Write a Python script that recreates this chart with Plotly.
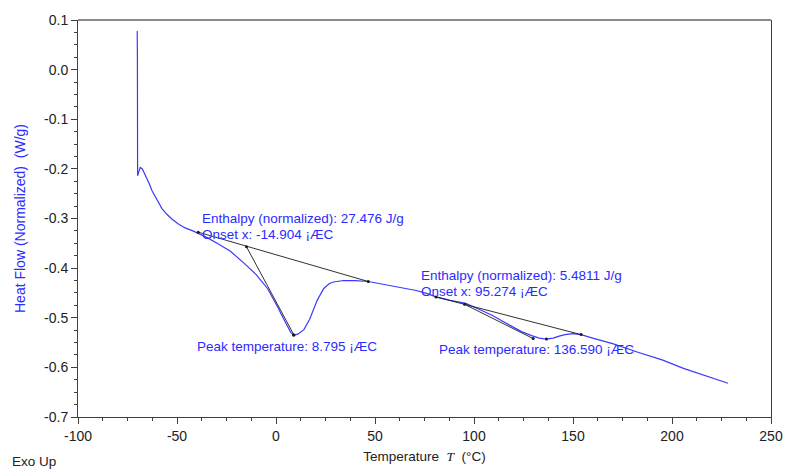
import plotly.graph_objects as go

# DSC heating scan: temperature (°C) and normalized heat flow (W/g)
temperature = [
    -70.1, -70.0, -69.9, -69.3, -68.6, -67.5, -66.0, -64.0, -62.6, -60.0,
    -57.6, -55.0, -52.6, -49.3, -45.9, -42.0, -39.3, -35.0, -29.3, -23.0,
    -15.9, -10.0, -4.3, -1.5, 0.8, 3.3, 5.8, 7.5, 9.1, 11.0,
    14.1, 17.0, 20.8, 24.1, 27.0, 29.1, 34.1, 40.0, 46.6, 52.0,
    59.1, 65.0, 70.8, 76.0, 80.8, 88.0, 95.8, 102.0, 109.1, 114.0,
    119.1, 124.0, 129.1, 133.0, 136.6, 140.0, 143.0, 146.0, 150.0, 154.1,
    160.8, 170.0, 182.4, 195.0, 205.8, 215.0, 222.0, 228.3,
]
heat_flow = [
    0.078, 0.030, -0.214, -0.205, -0.197, -0.200, -0.212, -0.230, -0.244, -0.262,
    -0.280, -0.292, -0.301, -0.311, -0.319, -0.325, -0.330, -0.338, -0.351, -0.366,
    -0.391, -0.413, -0.441, -0.460, -0.478, -0.498, -0.518, -0.530, -0.535, -0.533,
    -0.524, -0.503, -0.465, -0.441, -0.431, -0.428, -0.425, -0.425, -0.427, -0.431,
    -0.435, -0.440, -0.445, -0.451, -0.458, -0.465, -0.471, -0.482, -0.495, -0.506,
    -0.518, -0.528, -0.536, -0.541, -0.543, -0.541, -0.537, -0.534, -0.532, -0.534,
    -0.542, -0.552, -0.569, -0.585, -0.602, -0.614, -0.623, -0.632,
]

# Integration baselines (start, end) for the two transitions
baseline1_t = [-39.3, 46.6]
baseline1_hf = [-0.3275, -0.427]
baseline2_t = [80.8, 154.1]
baseline2_hf = [-0.458, -0.534]

# Onset tangents: from onset point to the steepest-slope extrapolation end
tangent1_t = [-14.904, 9.1]
tangent1_hf = [-0.357, -0.535]
tangent2_t = [95.274, 129.9]
tangent2_hf = [-0.473, -0.542]

# Peak results
peak_t = [8.795, 136.590]
peak_hf = [-0.535, -0.543]

enthalpy1 = "27.476"
onset1 = "-14.904"
peak1 = "8.795"
enthalpy2 = "5.4811"
onset2 = "95.274"
peak2 = "136.590"

x_ticks = [-100, -50, 0, 50, 100, 150, 200, 250]
y_ticks = [0.1, 0.0, -0.1, -0.2, -0.3, -0.4, -0.5, -0.6, -0.7]

BLUE = "#2b2bff"
FONT = "Liberation Sans, Arial, sans-serif"

fig = go.Figure()

fig.add_trace(go.Scatter(
    x=temperature, y=heat_flow, mode="lines",
    line=dict(color="#3a3aff", width=1.2), hoverinfo="skip",
))

for tx, ty in [(baseline1_t, baseline1_hf), (tangent1_t, tangent1_hf),
               (baseline2_t, baseline2_hf), (tangent2_t, tangent2_hf)]:
    fig.add_trace(go.Scatter(
        x=tx, y=ty, mode="lines+markers",
        line=dict(color="#1a1a1a", width=0.9),
        marker=dict(color="#1a1a1a", size=3),
        hoverinfo="skip",
    ))

fig.add_trace(go.Scatter(
    x=peak_t, y=peak_hf, mode="markers",
    marker=dict(color="#1a1a1a", size=3), hoverinfo="skip",
))

ann_font = dict(family=FONT, size=13.5, color=BLUE)
labels = [
    (-38.6, -0.3006, f"Enthalpy (normalized): {enthalpy1} J/g"),
    (-38.6, -0.3322, f"Onset x: {onset1} ¡ÆC"),
    (-41.1, -0.557, f"Peak temperature: {peak1} ¡ÆC"),
    (72.2, -0.4146, f"Enthalpy (normalized): {enthalpy2} J/g"),
    (72.2, -0.448, f"Onset x: {onset2} ¡ÆC"),
    (81.4, -0.564, f"Peak temperature: {peak2} ¡ÆC"),
]
for ax_x, ax_y, txt in labels:
    fig.add_annotation(
        x=ax_x, y=ax_y, xref="x", yref="y", text=txt, showarrow=False,
        xanchor="left", yanchor="middle", font=ann_font,
    )

# "Exo Up" marker in the lower-left corner, outside the plot area
fig.add_annotation(
    x=-0.098, y=-0.113, xref="paper", yref="paper", text="Exo Up",
    showarrow=False, xanchor="left", yanchor="middle",
    font=dict(family=FONT, size=13.5, color="#222222"),
)

# top frame line in lighter grey
fig.add_shape(type="line", xref="paper", yref="paper", x0=0, x1=1, y0=1, y1=1,
              line=dict(color="#8a8a8a", width=2))

fig.update_layout(
    width=795, height=473,
    margin=dict(l=78, r=17, t=19, b=56),
    paper_bgcolor="white", plot_bgcolor="white",
    showlegend=False,
    font=dict(family=FONT, size=14, color="#222222"),
    xaxis=dict(
        range=[-100, 250], tickvals=x_ticks,
        ticktext=[str(v) for v in x_ticks],
        showgrid=False, zeroline=False,
        showline=True, linecolor="#404040", linewidth=1, mirror=False,
        ticks="outside", ticklen=6, tickcolor="#404040",
        minor=dict(dtick=12.5, ticks="outside", ticklen=3, tickcolor="#404040"),
        tickfont=dict(family=FONT, size=14, color="#222222"),
        title=dict(
            text="Temperature\u00a0\u00a0<span style=\"font-family:'Liberation Serif',serif;font-style:italic\">T</span>\u00a0\u00a0(°C)",
            font=dict(family=FONT, size=13.5, color="#222222"), standoff=8,
        ),
    ),
    yaxis=dict(
        range=[-0.7, 0.1], tickvals=y_ticks,
        ticktext=[f"{v:.1f}" for v in y_ticks],
        showgrid=False, zeroline=False,
        showline=True, linecolor="#404040", linewidth=1, mirror=True,
        ticks="outside", ticklen=6, tickcolor="#404040",
        minor=dict(dtick=0.025, ticks="outside", ticklen=3, tickcolor="#404040"),
        tickfont=dict(family=FONT, size=14, color="#222222"),
        title=dict(
            text="Heat Flow (Normalized)\u00a0\u00a0(W/g)",
            font=dict(family=FONT, size=14, color=BLUE), standoff=15,
        ),
    ),
)

fig.write_html("out.html")
